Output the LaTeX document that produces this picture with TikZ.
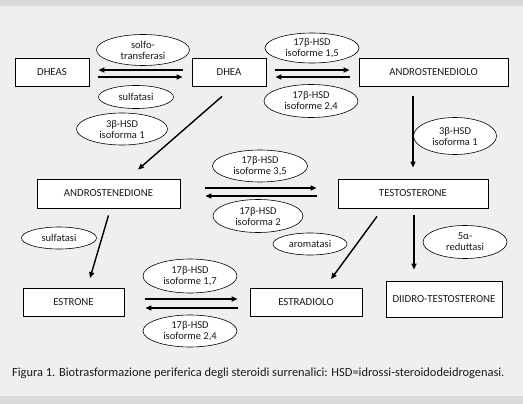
\documentclass[tikz,border=0pt]{standalone}
\usepackage{fontspec}
\setmainfont{Carlito}
\usetikzlibrary{shapes.geometric,arrows.meta,calc}
\definecolor{bg}{HTML}{EFEFEF}
\definecolor{band}{HTML}{DADADA}
\definecolor{txt}{HTML}{1A1A1A}
\begin{document}
\begin{tikzpicture}[x=1pt,y=-1pt,
  box/.style={draw=black,fill=white,line width=0.8pt,inner sep=0pt,text=txt,font=\fontsize{10.8}{12}\selectfont},
  enz/.style={draw=black,fill=white,ellipse,line width=0.6pt,inner sep=0pt,align=center,text=txt,font=\fontsize{10.5}{11}\selectfont},
  arr/.style={line width=1.4pt,-{Triangle[length=6pt,width=5pt]}}]
\fill[bg] (0,0) rectangle (523,404);
\fill[band] (0,0) rectangle (523,6);
\fill[band] (0,396) rectangle (523,404);
\useasboundingbox (0,0) rectangle (523,404);
% boxes
\node[box,minimum width=74pt,minimum height=28pt] (DHEAS) at (52,72) {DHEAS};
\node[box,minimum width=74pt,minimum height=28pt] (DHEA) at (229,72) {DHEA};
\node[box,minimum width=149pt,minimum height=28pt] (ADIOL) at (433.5,72) {ANDROSTENEDIOLO};
\node[box,minimum width=143pt,minimum height=29pt] (ADIONE) at (108.5,193.5) {ANDROSTENEDIONE};
\node[box,minimum width=150pt,minimum height=29pt] (TESTO) at (413,193.5) {TESTOSTERONE};
\node[box,minimum width=101pt,minimum height=28pt] (E1) at (73.5,302.5) {ESTRONE};
\node[box,minimum width=112pt,minimum height=28pt] (E2) at (306,302.5) {ESTRADIOLO};
\node[box,minimum width=116pt,minimum height=36pt] (DHT) at (444,299) {DIIDRO-TESTOSTERONE};
% enzymes
\node[enz,minimum width=93pt,minimum height=31pt] (e1) at (143,50) {solfo-\\transferasi};
\node[enz,minimum width=75pt,minimum height=23pt] (e2) at (136,97) {sulfatasi};
\node[enz,minimum width=91pt,minimum height=32pt] (e3) at (122,129) {3β-HSD\\isoforma 1};
\node[enz,minimum width=94pt,minimum height=30pt] (e4) at (312,48) {17β-HSD\\isoforme 1,5};
\node[enz,minimum width=94pt,minimum height=33pt] (e5) at (311,101) {17β-HSD\\isoforme 2,4};
\node[enz,minimum width=83pt,minimum height=37pt] (e6) at (455,136) {3β-HSD\\isoforma 1};
\node[enz,minimum width=95pt,minimum height=32pt] (e7) at (260,166) {17β-HSD\\isoforme 3,5};
\node[enz,minimum width=90pt,minimum height=33pt] (e8) at (258,216) {17β-HSD\\isoforma 2};
\node[enz,minimum width=74pt,minimum height=22pt] (e9) at (310,244) {aromatasi};
\node[enz,minimum width=84pt,minimum height=33pt] (e10) at (465,242) {5α-\\reduttasi};
\node[enz,minimum width=75pt,minimum height=22pt] (e11) at (59,238) {sulfatasi};
\node[enz,minimum width=94pt,minimum height=34pt] (e12) at (190,276) {17β-HSD\\isoforme 1,7};
\node[enz,minimum width=94pt,minimum height=32pt] (e13) at (190,331) {17β-HSD\\isoforme 2,4};
% arrows
\draw[arr] ($(DHEA.west)+(-9,-2)$) -- ($(DHEAS.east)+(9,-2)$);
\draw[arr] ($(DHEAS.east)+(9,5)$) -- ($(DHEA.west)+(-9,5)$);
\draw[arr] ($(DHEA.east)+(9,-2)$) -- ($(ADIOL.west)+(-9,-2)$);
\draw[arr] ($(ADIOL.west)+(-9,5)$) -- ($(DHEA.east)+(9,5)$);
\draw[arr] ($(DHEA.south)+(-7,10)$) -- ($(ADIONE.north)+(29.5,-9)$);
\draw[arr] ($(ADIOL.south)+(-20.5,10)$) -- ($(TESTO.north)+(0,-11)$);
\draw[arr] ($(ADIONE.east)+(25,-5.5)$) -- ($(TESTO.west)+(-21,-5.5)$);
\draw[arr] ($(TESTO.west)+(-21,2.5)$) -- ($(ADIONE.east)+(25,2.5)$);
\draw[arr] ($(ADIONE.south)+(0,7)$) -- ($(E1.north)+(16.5,-10)$);
\draw[arr] ($(TESTO.south)+(-36,8)$) -- ($(E2.north)+(25,-9)$);
\draw[arr] ($(TESTO.south)+(1,7)$) -- ($(DHT.north)+(-30,-11)$);
\draw[arr] ($(E1.east)+(21,-3.5)$) -- ($(E2.west)+(-12,-3.5)$);
\draw[arr] ($(E2.west)+(-12,5.5)$) -- ($(E1.east)+(21,5.5)$);
% caption
\node[anchor=west,inner sep=0pt,text=txt,font=\fontsize{12.4}{14}\selectfont] (cap) at (12,373) {Figura 1. Biotrasformazione periferica degli steroidi surrenalici: HSD=idrossi-steroidodeidrogenasi.};
\end{tikzpicture}
\end{document}
